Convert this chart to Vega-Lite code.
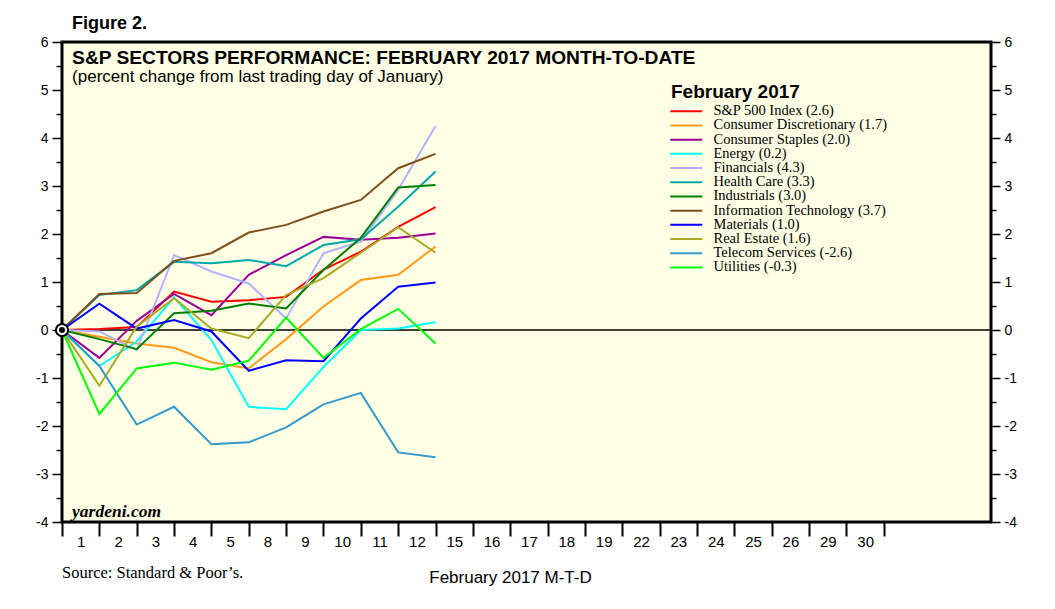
{
  "$schema": "https://vega.github.io/schema/vega-lite/v6.json",
  "width": 929,
  "height": 480,
  "autosize": {"type": "none"},
  "padding": {"left": 62, "top": 42, "right": 64, "bottom": 87},
  "background": "white",
  "title": {"text": "Figure 2.", "anchor": "start", "frame": "group", "dx": 10, "offset": -12, "fontSize": 18, "font": "Liberation Sans", "fontWeight": "bold", "color": "black", "baseline": "alphabetic"},
  "datasets": {
    "sectors": [
      {"s": "S&P 500 Index (2.6)", "t": 0, "v": 0}, {"s": "S&P 500 Index (2.6)", "t": 1, "v": 0.02}, {"s": "S&P 500 Index (2.6)", "t": 2, "v": 0.06}, {"s": "S&P 500 Index (2.6)", "t": 3, "v": 0.80}, {"s": "S&P 500 Index (2.6)", "t": 4, "v": 0.59}, {"s": "S&P 500 Index (2.6)", "t": 5, "v": 0.62}, {"s": "S&P 500 Index (2.6)", "t": 6, "v": 0.69}, {"s": "S&P 500 Index (2.6)", "t": 7, "v": 1.26}, {"s": "S&P 500 Index (2.6)", "t": 8, "v": 1.63}, {"s": "S&P 500 Index (2.6)", "t": 9, "v": 2.15}, {"s": "S&P 500 Index (2.6)", "t": 10, "v": 2.56},
      {"s": "Consumer Discretionary (1.7)", "t": 0, "v": 0}, {"s": "Consumer Discretionary (1.7)", "t": 1, "v": -0.14}, {"s": "Consumer Discretionary (1.7)", "t": 2, "v": -0.28}, {"s": "Consumer Discretionary (1.7)", "t": 3, "v": -0.37}, {"s": "Consumer Discretionary (1.7)", "t": 4, "v": -0.67}, {"s": "Consumer Discretionary (1.7)", "t": 5, "v": -0.80}, {"s": "Consumer Discretionary (1.7)", "t": 6, "v": -0.19}, {"s": "Consumer Discretionary (1.7)", "t": 7, "v": 0.49}, {"s": "Consumer Discretionary (1.7)", "t": 8, "v": 1.04}, {"s": "Consumer Discretionary (1.7)", "t": 9, "v": 1.15}, {"s": "Consumer Discretionary (1.7)", "t": 10, "v": 1.74},
      {"s": "Consumer Staples (2.0)", "t": 0, "v": 0}, {"s": "Consumer Staples (2.0)", "t": 1, "v": -0.58}, {"s": "Consumer Staples (2.0)", "t": 2, "v": 0.19}, {"s": "Consumer Staples (2.0)", "t": 3, "v": 0.75}, {"s": "Consumer Staples (2.0)", "t": 4, "v": 0.31}, {"s": "Consumer Staples (2.0)", "t": 5, "v": 1.15}, {"s": "Consumer Staples (2.0)", "t": 6, "v": 1.56}, {"s": "Consumer Staples (2.0)", "t": 7, "v": 1.94}, {"s": "Consumer Staples (2.0)", "t": 8, "v": 1.88}, {"s": "Consumer Staples (2.0)", "t": 9, "v": 1.92}, {"s": "Consumer Staples (2.0)", "t": 10, "v": 2.01},
      {"s": "Energy (0.2)", "t": 0, "v": 0}, {"s": "Energy (0.2)", "t": 1, "v": -0.75}, {"s": "Energy (0.2)", "t": 2, "v": -0.24}, {"s": "Energy (0.2)", "t": 3, "v": 0.68}, {"s": "Energy (0.2)", "t": 4, "v": -0.21}, {"s": "Energy (0.2)", "t": 5, "v": -1.60}, {"s": "Energy (0.2)", "t": 6, "v": -1.65}, {"s": "Energy (0.2)", "t": 7, "v": -0.77}, {"s": "Energy (0.2)", "t": 8, "v": 0.0}, {"s": "Energy (0.2)", "t": 9, "v": 0.03}, {"s": "Energy (0.2)", "t": 10, "v": 0.16},
      {"s": "Financials (4.3)", "t": 0, "v": 0}, {"s": "Financials (4.3)", "t": 1, "v": -0.03}, {"s": "Financials (4.3)", "t": 2, "v": -0.42}, {"s": "Financials (4.3)", "t": 3, "v": 1.56}, {"s": "Financials (4.3)", "t": 4, "v": 1.22}, {"s": "Financials (4.3)", "t": 5, "v": 0.97}, {"s": "Financials (4.3)", "t": 6, "v": 0.24}, {"s": "Financials (4.3)", "t": 7, "v": 1.60}, {"s": "Financials (4.3)", "t": 8, "v": 1.84}, {"s": "Financials (4.3)", "t": 9, "v": 2.92}, {"s": "Financials (4.3)", "t": 10, "v": 4.25},
      {"s": "Health Care (3.3)", "t": 0, "v": 0}, {"s": "Health Care (3.3)", "t": 1, "v": 0.73}, {"s": "Health Care (3.3)", "t": 2, "v": 0.83}, {"s": "Health Care (3.3)", "t": 3, "v": 1.42}, {"s": "Health Care (3.3)", "t": 4, "v": 1.39}, {"s": "Health Care (3.3)", "t": 5, "v": 1.46}, {"s": "Health Care (3.3)", "t": 6, "v": 1.33}, {"s": "Health Care (3.3)", "t": 7, "v": 1.77}, {"s": "Health Care (3.3)", "t": 8, "v": 1.89}, {"s": "Health Care (3.3)", "t": 9, "v": 2.57}, {"s": "Health Care (3.3)", "t": 10, "v": 3.30},
      {"s": "Industrials (3.0)", "t": 0, "v": 0}, {"s": "Industrials (3.0)", "t": 1, "v": -0.19}, {"s": "Industrials (3.0)", "t": 2, "v": -0.40}, {"s": "Industrials (3.0)", "t": 3, "v": 0.35}, {"s": "Industrials (3.0)", "t": 4, "v": 0.40}, {"s": "Industrials (3.0)", "t": 5, "v": 0.55}, {"s": "Industrials (3.0)", "t": 6, "v": 0.45}, {"s": "Industrials (3.0)", "t": 7, "v": 1.25}, {"s": "Industrials (3.0)", "t": 8, "v": 1.92}, {"s": "Industrials (3.0)", "t": 9, "v": 2.97}, {"s": "Industrials (3.0)", "t": 10, "v": 3.02},
      {"s": "Information Technology (3.7)", "t": 0, "v": 0}, {"s": "Information Technology (3.7)", "t": 1, "v": 0.75}, {"s": "Information Technology (3.7)", "t": 2, "v": 0.77}, {"s": "Information Technology (3.7)", "t": 3, "v": 1.44}, {"s": "Information Technology (3.7)", "t": 4, "v": 1.60}, {"s": "Information Technology (3.7)", "t": 5, "v": 2.03}, {"s": "Information Technology (3.7)", "t": 6, "v": 2.19}, {"s": "Information Technology (3.7)", "t": 7, "v": 2.47}, {"s": "Information Technology (3.7)", "t": 8, "v": 2.71}, {"s": "Information Technology (3.7)", "t": 9, "v": 3.37}, {"s": "Information Technology (3.7)", "t": 10, "v": 3.67},
      {"s": "Materials (1.0)", "t": 0, "v": 0}, {"s": "Materials (1.0)", "t": 1, "v": 0.55}, {"s": "Materials (1.0)", "t": 2, "v": 0.03}, {"s": "Materials (1.0)", "t": 3, "v": 0.21}, {"s": "Materials (1.0)", "t": 4, "v": -0.03}, {"s": "Materials (1.0)", "t": 5, "v": -0.85}, {"s": "Materials (1.0)", "t": 6, "v": -0.63}, {"s": "Materials (1.0)", "t": 7, "v": -0.65}, {"s": "Materials (1.0)", "t": 8, "v": 0.24}, {"s": "Materials (1.0)", "t": 9, "v": 0.90}, {"s": "Materials (1.0)", "t": 10, "v": 0.99},
      {"s": "Real Estate (1.6)", "t": 0, "v": 0}, {"s": "Real Estate (1.6)", "t": 1, "v": -1.16}, {"s": "Real Estate (1.6)", "t": 2, "v": 0.07}, {"s": "Real Estate (1.6)", "t": 3, "v": 0.66}, {"s": "Real Estate (1.6)", "t": 4, "v": 0.03}, {"s": "Real Estate (1.6)", "t": 5, "v": -0.17}, {"s": "Real Estate (1.6)", "t": 6, "v": 0.73}, {"s": "Real Estate (1.6)", "t": 7, "v": 1.08}, {"s": "Real Estate (1.6)", "t": 8, "v": 1.61}, {"s": "Real Estate (1.6)", "t": 9, "v": 2.14}, {"s": "Real Estate (1.6)", "t": 10, "v": 1.61},
      {"s": "Telecom Services (-2.6)", "t": 0, "v": 0}, {"s": "Telecom Services (-2.6)", "t": 1, "v": -0.75}, {"s": "Telecom Services (-2.6)", "t": 2, "v": -1.97}, {"s": "Telecom Services (-2.6)", "t": 3, "v": -1.60}, {"s": "Telecom Services (-2.6)", "t": 4, "v": -2.38}, {"s": "Telecom Services (-2.6)", "t": 5, "v": -2.34}, {"s": "Telecom Services (-2.6)", "t": 6, "v": -2.03}, {"s": "Telecom Services (-2.6)", "t": 7, "v": -1.55}, {"s": "Telecom Services (-2.6)", "t": 8, "v": -1.31}, {"s": "Telecom Services (-2.6)", "t": 9, "v": -2.55}, {"s": "Telecom Services (-2.6)", "t": 10, "v": -2.65},
      {"s": "Utilities (-0.3)", "t": 0, "v": 0}, {"s": "Utilities (-0.3)", "t": 1, "v": -1.75}, {"s": "Utilities (-0.3)", "t": 2, "v": -0.80}, {"s": "Utilities (-0.3)", "t": 3, "v": -0.68}, {"s": "Utilities (-0.3)", "t": 4, "v": -0.83}, {"s": "Utilities (-0.3)", "t": 5, "v": -0.64}, {"s": "Utilities (-0.3)", "t": 6, "v": 0.26}, {"s": "Utilities (-0.3)", "t": 7, "v": -0.58}, {"s": "Utilities (-0.3)", "t": 8, "v": 0.02}, {"s": "Utilities (-0.3)", "t": 9, "v": 0.44}, {"s": "Utilities (-0.3)", "t": 10, "v": -0.28}
    ]
  },
  "layer": [
    {
      "data": {"values": [{}]},
      "mark": {"type": "rule", "color": "black", "strokeWidth": 1.3},
      "encoding": {
        "y": {"datum": 0, "type": "quantitative", "scale": {"domain": [-4, 6], "nice": false, "zero": false},
          "axis": {"orient": "right", "values": [-4, -3.5, -3, -2.5, -2, -1.5, -1, -0.5, 0, 0.5, 1, 1.5, 2, 2.5, 3, 3.5, 4, 4.5, 5, 5.5, 6],
            "labelExpr": "datum.value % 1 === 0 ? '' + datum.value : ''",
            "tickSize": {"condition": {"test": "datum.value % 1 === 0", "value": 9}, "value": 5},
            "labelPadding": 4, "title": null, "grid": false, "domain": false}}
      }
    },
    {
      "data": {"name": "sectors"},
      "mark": {"type": "line", "strokeWidth": 2, "clip": false},
      "encoding": {
        "x": {"field": "t", "type": "quantitative", "scale": {"domain": [0, 24.87], "nice": false, "zero": false},
          "axis": {"values": [0, 1, 2, 3, 4, 5, 6, 7, 8, 9, 10, 11, 12, 13, 14, 15, 16, 17, 18, 19, 20, 21, 22],
            "labelExpr": "['1','2','3','4','5','8','9','10','11','12','15','16','17','18','19','22','23','24','25','26','29','30',''][datum.value]",
            "labelOffset": 18.7, "labelFlush": false, "labelOverlap": false, "labelBound": false,
            "tickSize": 14, "tickWidth": 2, "labelPadding": -2, "labelFontSize": 15,
            "title": "February 2017 M-T-D", "titleX": 448, "titleY": 60, "titleBaseline": "alphabetic", "titleFontSize": 17, "titleFontWeight": "normal",
            "grid": false, "domain": false}},
        "y": {"field": "v", "type": "quantitative", "scale": {"domain": [-4, 6], "nice": false, "zero": false},
          "axis": {"orient": "left", "values": [-4, -3.5, -3, -2.5, -2, -1.5, -1, -0.5, 0, 0.5, 1, 1.5, 2, 2.5, 3, 3.5, 4, 4.5, 5, 5.5, 6],
            "labelExpr": "datum.value % 1 === 0 ? '' + datum.value : ''",
            "tickSize": {"condition": {"test": "datum.value % 1 === 0", "value": 10}, "value": 6},
            "labelPadding": 4, "title": null, "grid": false, "domain": false}},
        "color": {"field": "s", "type": "nominal",
          "scale": {"domain": ["S&P 500 Index (2.6)", "Consumer Discretionary (1.7)", "Consumer Staples (2.0)", "Energy (0.2)", "Financials (4.3)", "Health Care (3.3)", "Industrials (3.0)", "Information Technology (3.7)", "Materials (1.0)", "Real Estate (1.6)", "Telecom Services (-2.6)", "Utilities (-0.3)"],
            "range": ["#FF0000", "#FF9A1A", "#990099", "#00FFFF", "#B3B3FF", "#00AAAA", "#008000", "#7F4F1A", "#0000FF", "#AAAA22", "#3399CC", "#00FF00"]},
          "legend": {"orient": "none", "legendX": 609, "legendY": 41, "padding": 0,
            "title": "February 2017", "titleFont": "Liberation Sans", "titleFontSize": 19, "titleFontWeight": "bold", "titleColor": "black", "titlePadding": 2,
            "labelFont": "Liberation Serif", "labelFontSize": 14.5, "labelColor": "black", "labelLimit": 400, "labelOffset": 28,
            "symbolType": "M-4,0H12", "symbolSize": 16, "symbolStrokeWidth": 2, "rowPadding": -0.8, "symbolLimit": 0}}
      }
    },
    {
      "data": {"values": [{}]},
      "mark": {"type": "point", "filled": true, "fill": "white", "stroke": "black", "strokeWidth": 2, "size": 150, "opacity": 1},
      "encoding": {"x": {"datum": 0, "type": "quantitative"}, "y": {"datum": 0, "type": "quantitative", "axis": null}}
    },
    {
      "data": {"values": [{}]},
      "mark": {"type": "point", "filled": true, "fill": "black", "strokeWidth": 0, "size": 36, "opacity": 1},
      "encoding": {"x": {"datum": 0, "type": "quantitative"}, "y": {"datum": 0, "type": "quantitative", "axis": null}}
    },
    {
      "data": {"values": [{}]},
      "mark": {"type": "text", "text": "S&P SECTORS PERFORMANCE: FEBRUARY 2017 MONTH-TO-DATE", "align": "left", "baseline": "middle", "font": "Liberation Sans", "fontSize": 19.2, "fontWeight": "bold", "color": "black"},
      "encoding": {"x": {"datum": 0.27, "type": "quantitative"}, "y": {"datum": 5.67, "type": "quantitative", "axis": null}}
    },
    {
      "data": {"values": [{}]},
      "mark": {"type": "text", "text": "(percent change from last trading day of January)", "align": "left", "baseline": "middle", "font": "Liberation Sans", "fontSize": 17, "color": "black"},
      "encoding": {"x": {"datum": 0.27, "type": "quantitative"}, "y": {"datum": 5.27, "type": "quantitative", "axis": null}}
    },
    {
      "data": {"values": [{}]},
      "mark": {"type": "text", "text": "yardeni.com", "align": "left", "baseline": "middle", "font": "Liberation Serif", "fontSize": 17.5, "fontWeight": "bold", "fontStyle": "italic", "color": "black"},
      "encoding": {"x": {"datum": 0.27, "type": "quantitative"}, "y": {"datum": -3.79, "type": "quantitative", "axis": null}}
    },
    {
      "data": {"values": [{}]},
      "mark": {"type": "text", "text": "Source: Standard & Poor’s.", "align": "left", "baseline": "middle", "font": "Liberation Serif", "fontSize": 16.5, "color": "black", "clip": false},
      "encoding": {"x": {"datum": 0, "type": "quantitative"}, "y": {"datum": -5.06, "type": "quantitative", "axis": null}}
    }
  ],
  "resolve": {"axis": {"y": "independent"}},
  "config": {
    "view": {"stroke": "black", "strokeWidth": 3, "fill": "#FFFFE5"},
    "axis": {"labelFont": "Liberation Sans", "labelFontSize": 14, "labelColor": "black", "tickColor": "black", "tickWidth": 1.5, "titleFont": "Liberation Sans", "titleColor": "black"}
  }
}
